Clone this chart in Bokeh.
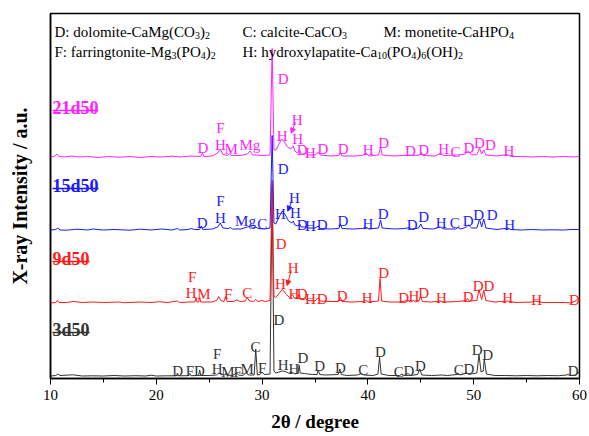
from bokeh.plotting import figure
from bokeh.models import Range1d, SingleIntervalTicker, FixedTicker, ColumnDataSource, Arrow, NormalHead
from bokeh.embed import file_html
from bokeh.resources import INLINE
from bokeh.core.properties import value

FONT = "Liberation Serif, Times New Roman, DejaVu Serif, serif"

# ---------------- data ----------------
samples = ["3d50", "9d50", "15d50", "21d50"]
colors = ["#333333", "#ff1a1a", "#1a1aff", "#ff22ff"]
offsets = [1.5, 75.0, 147.5, 220.5]          # vertical stacking offset (a.u.)

# pattern vertices: (2theta, relative intensity)
pat_3d50 = [(10.0, 1), (10.5, 1.5), (10.7, 3), (10.9, 1.5), (12.1, 2.2), (13, 1), (14, 1.2), (15, 1),
            (16, 1.5), (17, 1), (18, 1.3), (19, 1), (19.5, 1.8), (20, 1), (21, 1.2),
            (21.9, 1.2), (22.0, 4), (22.1, 1.2), (23.0, 1.3), (23.15, 3.5), (23.3, 1.3),
            (24.0, 1.5), (24.1, 7), (24.2, 1.5), (25, 1.5), (25.7, 2), (25.9, 4), (26.1, 2.5),
            (26.5, 2), (26.6, 4), (26.7, 2), (27.2, 1.5), (27.6, 4), (27.8, 1.8), (28.2, 1.6),
            (28.5, 4.5), (28.7, 2), (29.25, 2), (29.4, 28), (29.55, 2), (29.8, 2.5), (30.0, 5),
            (30.2, 2.5), (30.75, 3), (30.95, 192), (31.12, 6), (31.3, 4), (31.6, 5), (31.9, 6),
            (32.2, 5.5), (32.5, 4), (32.9, 4.5), (33.1, 3), (33.4, 4), (33.5, 12), (33.6, 4),
            (34.0, 3.5), (34.3, 3), (34.8, 2.5), (35.2, 2.5), (35.3, 7), (35.45, 2.5), (36, 2),
            (37.2, 2.5), (37.35, 8), (37.5, 2.5), (38, 1.5), (39, 2), (39.4, 3.5), (39.6, 2),
            (40.5, 1.5), (40.95, 3), (41.1, 20), (41.25, 3), (42, 1.5), (43, 1.5), (43.2, 3),
            (43.4, 1.5), (43.8, 3.5), (44.0, 1.5), (44.7, 2.5), (44.9, 8), (45.1, 2), (46, 1.5),
            (47.0, 2), (47.5, 1.5), (48.4, 2.5), (48.5, 4), (48.7, 2), (49.2, 3.5), (49.3, 5),
            (49.5, 2.5), (50.3, 4), (50.5, 22), (50.7, 5), (50.9, 6), (51.0, 18), (51.2, 3),
            (52, 1.5), (53, 1.5), (54, 1.2), (55, 1.5), (56, 1.2), (57, 1.5), (58, 1.3),
            (58.8, 2), (58.95, 3), (59.1, 1.5), (59.7, 2), (59.85, 5), (60, 3)]

pat_9d50 = [(10, 0.5), (10.5, 1), (10.65, 3), (10.8, 1), (11.5, 1), (12.2, 2), (13, 1), (14, 1.5),
            (15, 1), (16.5, 1.5), (17, 0.8), (18.5, 1.5), (19.5, 1), (20.3, 1.8), (21, 1),
            (22.0, 2.5), (22.2, 1), (23, 1.5), (23.65, 1.5), (23.75, 6), (23.85, 1.5), (24.0, 1.5),
            (24.1, 6), (24.2, 1.5), (25.2, 1.5), (25.7, 3), (25.9, 7), (26.1, 3), (26.4, 2),
            (26.55, 7), (26.7, 2), (27.3, 2), (27.6, 3.5), (27.9, 2), (28.4, 2.5), (28.6, 6),
            (28.8, 2.5), (29.2, 2), (29.4, 4), (29.6, 2), (30.0, 3), (30.3, 2), (30.75, 3),
            (30.95, 123), (31.12, 7), (31.3, 6), (31.6, 10), (31.9, 14), (32.1, 12), (32.3, 9),
            (32.6, 6), (32.9, 9), (33.0, 6), (33.3, 5), (33.5, 9), (33.65, 4), (34.0, 4),
            (34.1, 5), (34.3, 3), (35.0, 2.5), (35.3, 6), (35.5, 2.5), (36.5, 2), (37.2, 2),
            (37.4, 6), (37.55, 2), (38.5, 1.5), (39.5, 2), (39.8, 3), (40.1, 1.5), (41.0, 2.5),
            (41.15, 25), (41.3, 2.5), (42.0, 1.5), (43.0, 1.5), (43.8, 3), (44.0, 1.5), (44.3, 3),
            (44.5, 1.5), (44.8, 2.5), (45.0, 7), (45.15, 2), (46, 1.5), (46.8, 2.5), (47.2, 1.5),
            (48.5, 2), (49.3, 3), (49.4, 5), (49.6, 2.5), (50.3, 3), (50.5, 14), (50.75, 4),
            (50.95, 13), (51.15, 3), (52, 1.5), (53.2, 2.5), (54, 1), (55.5, 1.5), (55.8, 2.5),
            (56.5, 1), (57.5, 1), (58.7, 1), (59.2, 0.5), (59.7, 3), (59.85, 5), (60, 4)]

pat_15d50 = [(10, 1), (10.5, 1.5), (10.7, 3), (10.9, 1), (11.5, 0.8), (12.5, 1.8), (13.5, 1), (14, 2),
             (15, 1), (16, 1.5), (17.5, 0.8), (18.5, 1.8), (19.5, 1), (20.5, 2), (21.5, 1),
             (22, 2.5), (22.2, 1), (23, 1.5), (23.3, 2.5), (23.6, 1.5), (24.1, 1.5), (24.25, 5),
             (24.4, 1.5), (25.3, 2), (25.8, 4), (26.05, 8), (26.3, 3), (26.8, 2.5), (27.0, 3.5),
             (27.2, 2), (28.0, 2), (28.6, 4), (28.9, 5), (29.1, 3), (29.4, 3.5), (29.7, 2.5),
             (30.2, 2), (30.75, 3), (30.95, 95.5), (31.12, 8), (31.3, 7), (31.6, 14), (31.9, 20),
             (32.2, 16), (32.5, 10), (32.8, 8), (32.95, 10), (33.1, 6), (33.4, 5), (33.55, 7),
             (33.7, 4), (34.0, 4), (34.15, 5), (34.35, 3), (35.0, 3), (35.3, 5), (35.5, 2.5),
             (36.5, 2), (37.25, 2.5), (37.4, 7), (37.55, 2.5), (38.5, 2), (39.5, 2.5), (39.8, 4),
             (40.1, 2), (41.0, 3), (41.2, 11), (41.35, 3), (42.5, 2), (43.5, 2.5), (43.9, 3.5),
             (44.1, 2), (44.8, 3), (45.0, 7), (45.2, 2.5), (46.2, 2), (46.8, 4), (47.2, 2),
             (48.3, 2), (48.5, 3.5), (48.8, 2), (49.3, 4), (49.5, 6), (49.8, 3), (50.3, 3),
             (50.55, 12), (50.75, 4), (50.95, 12), (51.15, 3), (52.2, 1.5), (53.2, 3), (53.5, 1.5),
             (54.5, 1), (55.5, 1.5), (56.5, 1), (57.5, 1.2), (58.5, 1), (59.2, 1.5), (60, 1.5)]

pat_21d50 = [(10, 1), (10.4, 1.5), (10.6, 4), (10.8, 1.5), (11.3, 1), (12, 2), (12.6, 1), (13.5, 1.5),
             (14.5, 0.5), (15.5, 1.5), (16.5, 0.8), (17.5, 1.5), (18.5, 0.5), (19.5, 1.5), (20.5, 1),
             (21.5, 1.8), (22.3, 1), (23.2, 2), (24.2, 1.5), (24.35, 5), (24.5, 1.5), (25.3, 2),
             (25.8, 5), (26.05, 9), (26.3, 3.5), (26.7, 2.5), (26.9, 4.5), (27.1, 2.5), (28.0, 2.5),
             (28.6, 4), (28.85, 7), (29.1, 3), (29.5, 3), (30.0, 2.5), (30.75, 3), (30.95, 109.5),
             (31.12, 8), (31.3, 8), (31.6, 14), (31.85, 19), (32.1, 16), (32.4, 11), (32.7, 9),
             (32.95, 12), (33.1, 7), (33.35, 5), (33.55, 8), (33.7, 4), (34.0, 4), (34.15, 5),
             (34.35, 3), (35.0, 3), (35.35, 6), (35.5, 3), (36.5, 2), (37.25, 2.5), (37.4, 5),
             (37.55, 2), (38.5, 2), (39.5, 2.5), (39.8, 5), (40.1, 2), (41.0, 3), (41.2, 11),
             (41.35, 3), (42.5, 2), (43.9, 3), (44.5, 2.5), (44.9, 3), (45.05, 6), (45.2, 2.5),
             (46.3, 2), (46.8, 4), (47.2, 2.5), (48.5, 3), (49.2, 4), (49.5, 7), (49.8, 3),
             (50.3, 3.5), (50.55, 10), (50.75, 4), (50.95, 8), (51.15, 3), (52.2, 2), (53.2, 3.5),
             (53.5, 1.5), (54.5, 1.5), (55.5, 1), (56.5, 1.5), (57.5, 1), (58.5, 1.5), (59.5, 1),
             (60, 1.5)]

patterns = [pat_3d50, pat_9d50, pat_15d50, pat_21d50]

# phase labels: (text, 2theta, label centre height)
lab_3d50 = [("D", 22.03, 12.3), ("F", 23.17, 12.3), ("D", 24.08, 12.3), ("F", 25.76, 29.7),
            ("H", 25.76, 14), ("M", 26.76, 11.3), ("F", 27.70, 11.3), ("M", 28.59, 14),
            ("C", 29.38, 36.3), ("F", 30.01, 15.3), ("D", 31.58, 63), ("H", 31.99, 18.7),
            ("H", 33.0, 14.7), ("D", 33.85, 25.7), ("D", 35.45, 17.3), ("D", 37.41, 15.3),
            ("C", 39.56, 13), ("D", 41.19, 31.3), ("C", 42.92, 11.3), ("D", 43.87, 12.3),
            ("D", 44.97, 17.3), ("C", 48.59, 13), ("D", 49.54, 14), ("D", 50.33, 33),
            ("D", 51.33, 28), ("D", 59.4, 12.3)]
lab_9d50 = [("F", 23.39, 106.3), ("H", 23.30, 90.7), ("M", 24.49, 89), ("F", 26.80, 89.7),
            ("C", 28.59, 90.7), ("D", 31.81, 139.7), ("H", 31.74, 99.7), ("H", 32.94, 115.3),
            ("H", 33.0, 89), ("D", 33.79, 89), ("H", 34.57, 84.7), ("D", 35.68, 84.7),
            ("D", 37.57, 87.3), ("H", 39.93, 85.7), ("D", 41.50, 110.7), ("D", 43.39, 85.3),
            ("H", 44.34, 87), ("D", 45.28, 90.7), ("H", 46.96, 85.3), ("D", 49.48, 86.3),
            ("D", 50.43, 97.3), ("D", 51.43, 97.3), ("H", 53.22, 85.3), ("H", 55.94, 83.7),
            ("D", 59.53, 83.7)]
lab_15d50 = [("D", 24.34, 160.7), ("F", 26.07, 182), ("H", 26.07, 165.7), ("Mg", 28.43, 162.3),
             ("C", 30.01, 159.7), ("D", 31.99, 214), ("H", 31.74, 169.7), ("H", 33.06, 185.3),
             ("H", 33.16, 170.7), ("D", 33.79, 158.7), ("H", 34.57, 157.3), ("D", 35.68, 158.7),
             ("D", 37.63, 162), ("H", 39.99, 159.7), ("D", 41.45, 169.7), ("D", 44.18, 158),
             ("D", 45.28, 166.3), ("H", 46.93, 160.7), ("C", 48.21, 160.3), ("D", 49.48, 162),
             ("D", 50.48, 168.7), ("D", 51.75, 168.7), ("H", 53.41, 158)]
lab_21d50 = [("D", 24.40, 235.3), ("F", 26.07, 255.3), ("H", 26.07, 238.7), ("M", 27.08, 234.7),
             ("Mg", 28.84, 238.7), ("D", 31.99, 304.7), ("H", 31.89, 247.3), ("H", 33.32, 263),
             ("H", 33.37, 244), ("D", 33.79, 233), ("H", 34.57, 230.7), ("D", 35.74, 234),
             ("D", 37.66, 234), ("H", 40.03, 233), ("D", 41.50, 240.7), ("D", 44.03, 232),
             ("D", 45.28, 233), ("H", 47.17, 234.7), ("C", 48.28, 231.3), ("D", 49.54, 235.3),
             ("D", 50.55, 240.3), ("D", 51.59, 238), ("H", 53.32, 232)]
labels = [lab_3d50, lab_9d50, lab_15d50, lab_21d50]

# small pointer arrows (x0, y0, x1, y1) for series 9d50, 15d50, 21d50
arrows = {1: (32.75, 108, 32.37, 93), 2: (32.84, 178.7, 32.43, 167.3), 3: (33.16, 256.3, 32.75, 245.3)}

# sample name positions: (left 2theta, baseline height)
sample_label_pos = [(10.19, 49), (10.19, 120), (10.19, 193), (10.19, 271)]

legend_rows = [
    (347, [(54, [("D: dolomite-CaMg(CO", 0), ("3", 1), (")", 0), ("2", 1)]),
           (242, [("C: calcite-CaCO", 0), ("3", 1)]),
           (383, [("M: monetite-CaHPO", 0), ("4", 1)])]),
    (327, [(54, [("F: farringtonite-Mg", 0), ("3", 1), ("(PO", 0), ("4", 1), (")", 0), ("2", 1)]),
           (242, [("H: hydroxylapatite-Ca", 0), ("10", 1), ("(PO", 0), ("4", 1), (")", 0),
                  ("6", 1), ("(OH)", 0), ("2", 1)])]),
]

# ---------------- figure ----------------
X0, X1 = 10, 60
Y0, Y1 = 0, 365
p = figure(width=589, height=436, output_backend="svg", toolbar_location=None,
           x_range=Range1d(X0, X1), y_range=Range1d(Y0, Y1),
           min_border_left=50, min_border_right=10, min_border_top=13, min_border_bottom=58)
p.background_fill_color = "white"
p.border_fill_color = "white"
p.grid.visible = False
p.outline_line_color = "black"
p.outline_line_width = 1.5

PX_PER_DEG = 529 / (X1 - X0)

for pat, off, col in zip(patterns, offsets, colors):
    xs = [a for a, b in pat]
    ys = [b + off for a, b in pat]
    p.line(xs, ys, line_color=col, line_width=1)

for labs, col in zip(labels, colors):
    src = ColumnDataSource(dict(x=[l[1] for l in labs], y=[l[2] - 4.8 for l in labs],
                                t=[l[0] for l in labs]))
    p.text(x="x", y="y", text="t", source=src, text_font=value(FONT), text_font_size="15px",
           text_color=col, text_align="center", text_baseline="alphabetic")

for i, (x0, y0, x1, y1) in arrows.items():
    col = colors[i]
    p.add_layout(Arrow(x_start=x0, y_start=y0, x_end=x1, y_end=y1, line_color=col, line_width=1,
                       end=NormalHead(size=5, fill_color=col, line_color=col)))

BOLD_W = {"0": 500, "1": 500, "2": 500, "3": 500, "5": 500, "9": 500, "d": 556}
for name, (lx, ly), col in zip(samples, sample_label_pos, colors):
    p.text(x=[lx], y=[ly], text=[name], text_font=value(FONT), text_font_size="18px",
           text_font_style="bold", text_color=col, text_align="left", text_baseline="alphabetic")
    w = sum(BOLD_W[c] for c in name) / 1000 * 18 / PX_PER_DEG
    p.segment(x0=[lx], y0=[ly - 3], x1=[lx + w], y1=[ly - 3], line_color=col, line_width=1.6)

TNR = {' ': 250, '(': 333, ')': 333, '-': 333, ':': 278, 'C': 667, 'D': 722, 'F': 556, 'H': 722,
       'M': 889, 'O': 722, 'P': 556, 'a': 444, 'c': 444, 'd': 500, 'e': 444, 'f': 333, 'g': 500,
       'h': 500, 'i': 278, 'l': 278, 'm': 778, 'n': 500, 'o': 500, 'p': 500, 'r': 333, 't': 278,
       'x': 500, 'y': 500}
MAIN, SUB = 15, 10
for base_y, items in legend_rows:
    for start_px, pieces in items:
        cx = start_px
        for txt, is_sub in pieces:
            size = SUB if is_sub else MAIN
            xd = X0 + (cx - 50) / PX_PER_DEG
            yd = base_y - (4 if is_sub else 0)
            p.text(x=[xd], y=[yd], text=[txt], text_font=value(FONT), text_font_size=f"{size}px",
                   text_color="black", text_align="left", text_baseline="alphabetic")
            cx += sum(TNR.get(c, 500) for c in txt) / 1000 * size

# axes
p.xaxis.ticker = SingleIntervalTicker(interval=10, num_minor_ticks=2)
p.xaxis.axis_label = "2θ / degree"
p.yaxis.ticker = FixedTicker(ticks=[])
p.yaxis.axis_label = "X-ray Intensity / a.u."
for ax in (p.xaxis[0], p.yaxis[0]):
    ax.axis_line_color = "black"
    ax.axis_line_width = 1.5
    ax.axis_label_text_font = FONT
    ax.axis_label_text_font_style = "bold"
    ax.axis_label_text_color = "black"
    ax.major_label_text_font = FONT
    ax.major_label_text_color = "black"
    ax.major_tick_line_color = "black"
    ax.minor_tick_line_color = "black"
    ax.major_tick_in = 0
    ax.minor_tick_in = 0
p.xaxis.major_tick_out = 6
p.xaxis.minor_tick_out = 4
p.xaxis.major_label_text_font_size = "15px"
p.xaxis.major_label_standoff = 5
p.xaxis.axis_label_text_font_size = "19px"
p.xaxis.axis_label_standoff = 8
p.yaxis.major_tick_out = 0
p.yaxis.minor_tick_out = 0
p.yaxis.major_label_standoff = 0
p.yaxis.axis_label_text_font_size = "20px"
p.yaxis.axis_label_standoff = 20

open("out.html", "w").write(file_html(p, INLINE))
